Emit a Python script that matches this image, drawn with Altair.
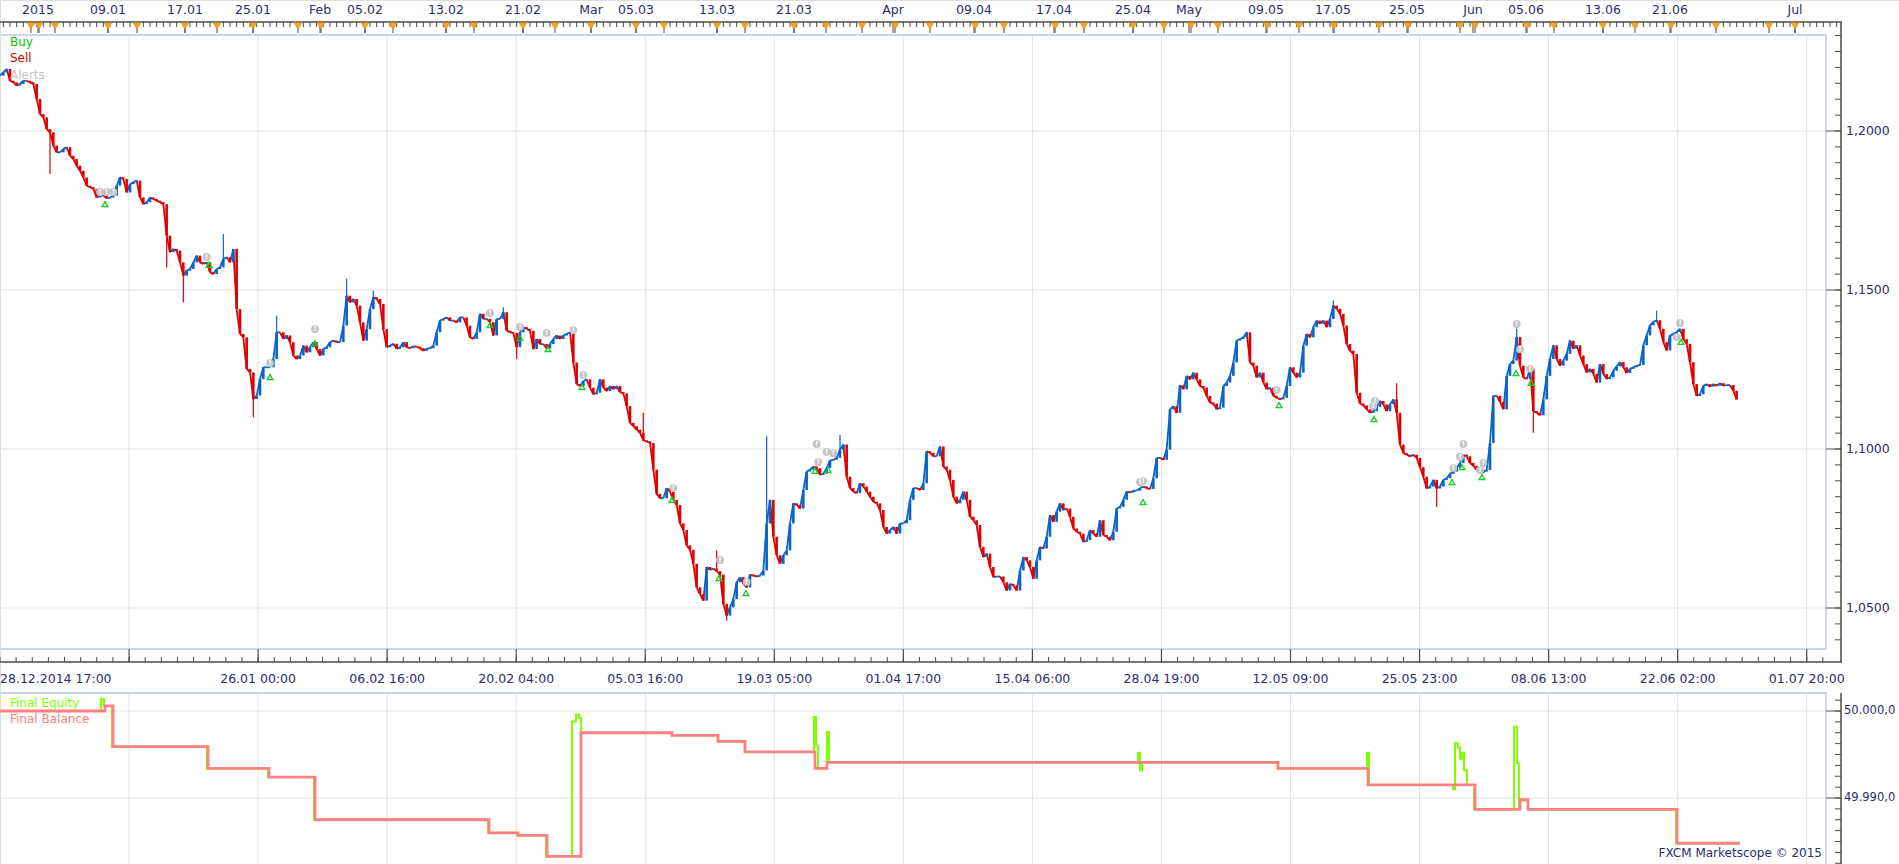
import altair as alt
import numpy as np
import pandas as pd

FONT = "DejaVu Sans"
NAVY = "#2d2d6b"

# ---------------- data: EUR/USD, one value per 6-hour bar ----------------
close_part1 = [
    1.2174, 1.2184, 1.2195, 1.2158, 1.2153, 1.2143, 1.2148, 1.2158, 1.2158, 1.2153,
    1.2148, 1.2101, 1.2053, 1.2043, 1.2006, 1.1996, 1.1954, 1.1933, 1.1933, 1.1943,
    1.1949, 1.1922, 1.1912, 1.1891, 1.1875, 1.1854, 1.1828, 1.1823, 1.1818, 1.1791,
    1.1797, 1.1797, 1.1788, 1.1791, 1.1797, 1.1828, 1.1854, 1.1849, 1.1807, 1.1833,
    1.1839, 1.1844, 1.1791, 1.1770, 1.1776, 1.1791, 1.1786, 1.1781, 1.1776, 1.1770,
    1.1671, 1.1619, 1.1629, 1.1624, 1.1587, 1.1545, 1.1561, 1.1566, 1.1587, 1.1608,
    1.1587, 1.1582, 1.1587, 1.1556, 1.1550, 1.1566, 1.1571, 1.1598, 1.1603, 1.1587,
    1.1629, 1.1440, 1.1362, 1.1351, 1.1252, 1.1241, 1.1157, 1.1168, 1.1220, 1.1257,
    1.1257, 1.1257, 1.1283, 1.1367, 1.1367, 1.1346, 1.1357, 1.1336, 1.1294, 1.1283,
    1.1294, 1.1325, 1.1304, 1.1320, 1.1336, 1.1315, 1.1294, 1.1315, 1.1320, 1.1336,
    1.1341, 1.1336, 1.1336, 1.1388, 1.1482, 1.1461, 1.1472, 1.1451, 1.1398, 1.1341,
    1.1377, 1.1440, 1.1477, 1.1472, 1.1456, 1.1377, 1.1320, 1.1325, 1.1331, 1.1315,
    1.1320, 1.1336, 1.1320, 1.1317, 1.1323, 1.1322, 1.1317, 1.1309, 1.1315, 1.1317,
    1.1325, 1.1367, 1.1404, 1.1409, 1.1414, 1.1404, 1.1404, 1.1398, 1.1414, 1.1414,
    1.1388,
]
close_part2 = [
    1.1351, 1.1346, 1.1367, 1.1425, 1.1409, 1.1409, 1.1399, 1.1357, 1.1409, 1.1409,
    1.1430, 1.1372, 1.1367, 1.1365, 1.1320, 1.1367, 1.1383, 1.1378, 1.1372, 1.1314,
    1.1346, 1.1330, 1.1330, 1.1316, 1.1330, 1.1346, 1.1357, 1.1346, 1.1357, 1.1362,
    1.1367, 1.1272, 1.1204, 1.1198, 1.1214, 1.1219, 1.1193, 1.1172, 1.1177, 1.1219,
    1.1193, 1.1182, 1.1198, 1.1188, 1.1198, 1.1179, 1.1175, 1.1135, 1.1082, 1.1072,
    1.1061, 1.1051, 1.1027, 1.1024, 1.1019, 1.0935, 1.0859, 1.0845, 1.0845, 1.0877,
    1.0866, 1.0840, 1.0824, 1.0766, 1.0745, 1.0697, 1.0683, 1.0639, 1.0565, 1.0544,
    1.0523, 1.0629, 1.0620, 1.0624, 1.0616, 1.0605, 1.0513, 1.0476, 1.0502, 1.0528,
    1.0581, 1.0597, 1.0576, 1.0565, 1.0605, 1.0602, 1.0599, 1.0602, 1.0618, 1.0766,
    1.0840, 1.0724, 1.0666, 1.0639, 1.0666, 1.0681, 1.0766, 1.0829, 1.0824, 1.0813,
    1.0871, 1.0929, 1.0935, 1.0945, 1.0940, 1.0919, 1.0922, 1.0940, 1.0964, 1.0966,
    1.0972, 1.0998, 1.1014, 1.0913, 1.0877, 1.0866, 1.0861, 1.0892, 1.0882, 1.0866,
    1.0850, 1.0834, 1.0829, 1.0808, 1.0755, 1.0734, 1.0745, 1.0755, 1.0734, 1.0766,
    1.0766, 1.0776, 1.0840, 1.0877, 1.0877, 1.0871, 1.0892, 1.0993,
]
close_part3 = [
    1.0988, 1.0977, 1.0977, 1.1008, 1.0945, 1.0935, 1.0903, 1.0850, 1.0829, 1.0840,
    1.0866, 1.0840, 1.0787, 1.0776, 1.0761, 1.0692, 1.0660, 1.0671, 1.0629, 1.0597,
    1.0599, 1.0599, 1.0581, 1.0555, 1.0576, 1.0571, 1.0555, 1.0618, 1.0660, 1.0650,
    1.0629, 1.0592, 1.0650, 1.0692, 1.0687, 1.0724, 1.0792, 1.0771, 1.0803, 1.0829,
    1.0808, 1.0813, 1.0787, 1.0750, 1.0740, 1.0734, 1.0708, 1.0713, 1.0745, 1.0734,
    1.0724, 1.0776, 1.0729, 1.0724, 1.0713, 1.0740, 1.0813, 1.0818, 1.0840, 1.0866,
    1.0863, 1.0869, 1.0869, 1.0877, 1.0882, 1.0877, 1.0874, 1.0908, 1.0972, 1.0972,
    1.0966, 1.0998, 1.1125, 1.1135, 1.1114, 1.1200, 1.1188, 1.1230, 1.1219, 1.1240,
    1.1219, 1.1198, 1.1193, 1.1167, 1.1146, 1.1143, 1.1125, 1.1130, 1.1198, 1.1209,
    1.1230, 1.1272, 1.1341, 1.1346, 1.1351, 1.1367, 1.1272, 1.1262, 1.1225, 1.1240,
    1.1209, 1.1188, 1.1193, 1.1167, 1.1161, 1.1156, 1.1161, 1.1198, 1.1257, 1.1240,
    1.1225, 1.1240, 1.1325, 1.1362, 1.1351, 1.1383, 1.1404, 1.1394, 1.1404, 1.1383,
    1.1409, 1.1451, 1.1441, 1.1425, 1.1388, 1.1330, 1.1309, 1.1299, 1.1177, 1.1143,
    1.1137, 1.1125, 1.1114, 1.1119, 1.1132, 1.1151, 1.1140, 1.1119,
]
close_part4 = [
    1.1141, 1.1156, 1.1114, 1.1014, 1.0987, 1.0982, 1.0977, 1.0982, 1.0972, 1.0943,
    1.0913, 1.0876, 1.0882, 1.0903, 1.0876, 1.0882, 1.0903, 1.0908, 1.0922, 1.0929,
    1.0940, 1.0956, 1.0982, 1.0977, 1.0956, 1.0947, 1.0934, 1.0924, 1.0929, 1.0934,
    1.1019, 1.1167, 1.1167, 1.1148, 1.1125, 1.1230, 1.1267, 1.1278, 1.1352, 1.1262,
    1.1225, 1.1220, 1.1252, 1.1119, 1.1114, 1.1106, 1.1156, 1.1230, 1.1283, 1.1326,
    1.1283, 1.1262, 1.1278, 1.1299, 1.1341, 1.1315, 1.1326, 1.1294, 1.1267, 1.1241,
    1.1252, 1.1236, 1.1209, 1.1267, 1.1236, 1.1220, 1.1225, 1.1246, 1.1260, 1.1273,
    1.1257, 1.1239, 1.1252, 1.1257, 1.1262, 1.1264, 1.1326, 1.1357, 1.1389, 1.1400,
    1.1405, 1.1378, 1.1336, 1.1310, 1.1357, 1.1362, 1.1368, 1.1378, 1.1345, 1.1331,
    1.1273, 1.1204, 1.1167, 1.1172, 1.1199, 1.1204, 1.1196, 1.1204, 1.1199, 1.1207,
    1.1199, 1.1201, 1.1201, 1.1183, 1.1156,
]
close = close_part1 + close_part2 + close_part3 + close_part4

# long wicks (bar, low, high)
spike_bar = [15, 50, 55, 67, 76, 83, 104, 112, 151, 155, 193, 215, 218, 230, 252, 400, 419, 431, 455, 460, 497]
spike_low = [1.1865, 1.1571, 1.1461, 1.1598, 1.1100, 1.1367, 1.1482, 1.1477, 1.1430, 1.1283, 1.1027,
             1.0616, 1.0460, 1.0766, 1.0998, 1.1451, 1.1114, 1.0818, 1.1352, 1.1051, 1.1405]
spike_high = [1.1996, 1.1713, 1.1545, 1.1676, 1.1157, 1.1419, 1.1535, 1.1498, 1.1446, 1.1320, 1.1114,
              1.0681, 1.0476, 1.1040, 1.1045, 1.1467, 1.1207, 1.0876, 1.1378, 1.1119, 1.1435]

# alert markers (bar, price)
alert_bar = [30, 32, 34, 62, 81, 94.5, 147, 156, 164, 172, 175, 202, 216, 224, 245, 245.5, 248, 250,
             342, 343, 383, 412, 412.5, 436, 438, 439, 444, 445, 455, 456, 459, 503, 504]
alert_price = [1.1808, 1.1808, 1.1808, 1.1604, 1.1270, 1.1377, 1.1428, 1.1384, 1.1365, 1.1374, 1.1233,
               1.0877, 1.0651, 1.0582, 1.1016, 1.0959, 1.0991, 1.0987, 1.0896, 1.0899, 1.1186, 1.1135,
               1.1151, 1.0940, 1.0975, 1.1016, 1.0934, 1.0956, 1.1393, 1.1314, 1.1252, 1.1352, 1.1396]

# buy-signal arrows (bar, price)
buy_bar = [31.5, 62.7, 81, 94.5, 147, 156, 164.4, 174.6, 201.6, 215.7, 223.8, 244.5, 248.4,
           342.9, 383.7, 412.2, 435.6, 438.6, 444.6, 454.8, 459.3, 504.3]
buy_price = [1.1770, 1.1579, 1.1226, 1.1333, 1.1390, 1.1349, 1.1314, 1.1195, 1.0840, 1.0594, 1.0547,
             1.0931, 1.0934, 1.0833, 1.1138, 1.1094, 1.0896, 1.0943, 1.0912, 1.1239, 1.1208, 1.1337]

# calendar events on the top time line (bar)
event_bar = [9.3, 11.7, 16.5, 32.4, 41.1, 55.5, 65.1, 75.9, 89.4, 96.3, 109.5, 117.9, 133.8, 142.2,
             156.9, 166.5, 177.3, 190.8, 199.2, 215.1, 223.5, 238.2, 247.8, 258.6, 268.5, 279.0, 292.5,
             301.2, 316.5, 325.2, 339.9, 349.2, 357.3, 365.4, 380.1, 389.7, 400.2, 413.7, 422.4, 438.0,
             442.5, 458.1, 466.2, 480.9, 490.5, 501.3, 514.8, 530.7, 538.5]
top_label_bar = [11.4, 32.4, 55.5, 75.9, 96.0, 109.5, 133.8, 156.9, 177.3, 190.8, 215.1, 238.2, 267.9,
                 292.2, 316.2, 339.9, 356.7, 379.8, 399.9, 422.1, 441.9, 457.8, 480.9, 501.0, 538.5]
top_label_text = ["2015", "09.01", "17.01", "25.01", "Feb", "05.02", "13.02", "21.02", "Mar", "05.03",
                  "13.03", "21.03", "Apr", "09.04", "17.04", "25.04", "May", "09.05", "17.05", "25.05",
                  "Jun", "05.06", "13.06", "21.06", "Jul"]

bottom_label_grid = [2, 3, 4, 5, 6, 7, 8, 9, 10, 11, 12, 13, 14]
bottom_label_text = ["26.01 00:00", "06.02 16:00", "20.02 04:00", "05.03 16:00", "19.03 05:00",
                     "01.04 17:00", "15.04 06:00", "28.04 19:00", "12.05 09:00", "25.05 23:00",
                     "08.06 13:00", "22.06 02:00", "01.07 20:00"]
first_label_text = "28.12.2014 17:00"

price_ticks_major = [1.05, 1.10, 1.15, 1.20]
price_labels = ["1,0500", "1,1000", "1,1500", "1,2000"]
eq_ticks_major = [49990, 50000]
eq_labels = ["49.990,0", "50.000,0"]

# account panel
balance_bar = [0, 31.5, 33.9, 62.4, 80.7, 94.5, 146.7, 155.4, 164.1, 174.3, 201.6, 215.4, 223.5,
               244.5, 248.1, 383.4, 410.4, 442.5, 456.0, 458.4, 503.1, 522.0]
balance_value = [50000.0, 50000.6, 49995.9, 49993.4, 49992.4, 49987.5, 49986.0, 49985.7, 49983.3,
                 49997.5, 49997.2, 49996.5, 49995.3, 49993.4, 49994.1, 49993.4, 49991.5, 49988.7,
                 49989.8, 49988.7, 49984.8, 49984.8]
equity_bar = [0, 30.3, 31.2, 33.6, 62.1, 80.4, 94.2, 146.4, 155.1, 163.8, 171.6, 172.8, 173.7, 174.3,
              201.6, 215.4, 223.5, 244.2, 244.8, 245.4, 248.1, 248.7, 341.4, 342.0, 342.6, 383.4,
              410.1, 410.7, 435.9, 436.5, 437.4, 438.0, 438.6, 439.2, 440.1, 442.2, 454.2, 455.1,
              455.7, 456.0, 458.4, 502.8, 522.0]
equity_value = [50000.0, 50001.4, 50000.6, 49995.9, 49993.4, 49992.4, 49987.5, 49986.0, 49985.7,
                49983.3, 49998.8, 49999.6, 49999.2, 49997.5, 49997.2, 49996.5, 49995.3, 49999.3,
                49996.0, 49993.4, 49997.6, 49994.1, 49995.2, 49993.2, 49994.1, 49993.4, 49995.2,
                49991.5, 49991.0, 49996.3, 49995.8, 49994.5, 49995.2, 49993.2, 49991.5, 49988.7,
                49998.2, 49994.0, 49988.7, 49989.8, 49988.7, 49984.8, 49984.8]

BARS_PER_GRID = 38.715
XMAX = 569.7

# ---------------- scales ----------------
XS = alt.Scale(domain=[0, XMAX], nice=False, zero=False)
PY = alt.Scale(domain=[1.05, 1.20], range=[608, 131], nice=False, zero=False)
EY = alt.Scale(domain=[49990, 50000], range=[798, 711], nice=False, zero=False)


def X(field="x"):
    return alt.X(f"{field}:Q", scale=XS, axis=None)


def YP(field="p"):
    return alt.Y(f"{field}:Q", scale=PY, axis=None)


def YE(field="v"):
    return alt.Y(f"{field}:Q", scale=EY, axis=None)


one = pd.DataFrame({"a": [0]})
L = []

# ---------------- grids & frames ----------------
grid_df = pd.DataFrame({"x": BARS_PER_GRID * np.arange(1, 15)})
L.append(alt.Chart(grid_df).mark_rule(color="#e2e2e2", strokeWidth=1).encode(
    x=X(), y=alt.value(35), y2=alt.value(648)))
L.append(alt.Chart(grid_df).mark_rule(color="#e2e2e2", strokeWidth=1).encode(
    x=X(), y=alt.value(694), y2=alt.value(864)))
L.append(alt.Chart(pd.DataFrame({"p": price_ticks_major})).mark_rule(color="#e2e2e2", strokeWidth=1).encode(
    y=YP(), x=alt.value(0), x2=alt.value(1826)))
L.append(alt.Chart(pd.DataFrame({"v": eq_ticks_major})).mark_rule(color="#e2e2e2", strokeWidth=1).encode(
    y=YE(), x=alt.value(0), x2=alt.value(1826)))

frame = "#cdd6e2"
L.append(alt.Chart(one).mark_rule(color=frame, strokeWidth=2).encode(x=alt.value(0), x2=alt.value(1827), y=alt.value(35)))
L.append(alt.Chart(one).mark_rule(color=frame, strokeWidth=2).encode(x=alt.value(0), x2=alt.value(1827), y=alt.value(649)))
L.append(alt.Chart(one).mark_rule(color=frame, strokeWidth=2).encode(x=alt.value(1826), y=alt.value(35), y2=alt.value(649)))
L.append(alt.Chart(one).mark_rule(color=frame, strokeWidth=2).encode(x=alt.value(0), x2=alt.value(1827), y=alt.value(693)))
L.append(alt.Chart(one).mark_rule(color=frame, strokeWidth=2).encode(x=alt.value(1826), y=alt.value(693), y2=alt.value(864)))

# ---------------- top time line ----------------
axis_c = "#4a4a4a"
L.append(alt.Chart(one).mark_rule(color=axis_c, strokeWidth=1.5).encode(x=alt.value(0), x2=alt.value(1842), y=alt.value(22)))
L.append(alt.Chart(pd.DataFrame({"x": np.arange(1, 553, 2)})).mark_rule(color=axis_c, strokeWidth=1).encode(
    x=X(), y=alt.value(22), y2=alt.value(27)))
L.append(alt.Chart(pd.DataFrame({"x": event_bar + top_label_bar})).mark_rule(color=axis_c, strokeWidth=1).encode(
    x=X(), y=alt.value(22), y2=alt.value(33)))
L.append(alt.Chart(pd.DataFrame({"x": event_bar})).mark_point(
    shape="triangle-down", filled=True, fill="#f7a325", stroke="#e08a10", strokeWidth=0.6, size=60, opacity=1).encode(
    x=X(), y=alt.value(26)))
L.append(alt.Chart(pd.DataFrame({"x": top_label_bar, "t": top_label_text})).mark_text(
    font=FONT, fontSize=12.5, color=NAVY, align="center", baseline="middle").encode(
    x=X(), y=alt.value(10), text="t:N"))

# ---------------- bottom time axis ----------------
L.append(alt.Chart(one).mark_rule(color=axis_c, strokeWidth=1.5).encode(x=alt.value(0), x2=alt.value(1842), y=alt.value(662)))
L.append(alt.Chart(pd.DataFrame({"x": BARS_PER_GRID / 8 * np.arange(0, 14 * 8 + 2)})).mark_rule(
    color=axis_c, strokeWidth=1).encode(x=X(), y=alt.value(657), y2=alt.value(662)))
L.append(alt.Chart(grid_df).mark_rule(color=axis_c, strokeWidth=1.2).encode(x=X(), y=alt.value(649), y2=alt.value(662)))
L.append(alt.Chart(pd.DataFrame({"x": [BARS_PER_GRID * g for g in bottom_label_grid], "t": bottom_label_text})).mark_text(
    font=FONT, fontSize=12.5, color=NAVY, align="center", baseline="middle").encode(
    x=X(), y=alt.value(679), text="t:N"))
L.append(alt.Chart(pd.DataFrame({"x": [0], "t": [first_label_text]})).mark_text(
    font=FONT, fontSize=12.5, color=NAVY, align="left", baseline="middle").encode(
    x=X(), y=alt.value(679), text="t:N"))

# ---------------- right axes ----------------
L.append(alt.Chart(one).mark_rule(color=axis_c, strokeWidth=1.5).encode(x=alt.value(1841), y=alt.value(22), y2=alt.value(662)))
L.append(alt.Chart(one).mark_rule(color=axis_c, strokeWidth=1.5).encode(x=alt.value(1841), y=alt.value(693), y2=alt.value(864)))
L.append(alt.Chart(pd.DataFrame({"p": np.round(np.arange(1.04, 1.2301, 0.005), 3)})).mark_rule(
    color=axis_c, strokeWidth=1).encode(y=YP(), x=alt.value(1835), x2=alt.value(1841)))
L.append(alt.Chart(pd.DataFrame({"p": price_ticks_major})).mark_rule(color=axis_c, strokeWidth=1).encode(
    y=YP(), x=alt.value(1826), x2=alt.value(1841)))
L.append(alt.Chart(pd.DataFrame({"p": price_ticks_major, "t": price_labels})).mark_text(
    font=FONT, fontSize=12.5, color=NAVY, align="left", baseline="middle").encode(
    y=YP(), x=alt.value(1846), text="t:N"))
L.append(alt.Chart(pd.DataFrame({"v": np.arange(49982.5, 50001.3, 1.25)})).mark_rule(
    color=axis_c, strokeWidth=1).encode(y=YE(), x=alt.value(1835), x2=alt.value(1841)))
L.append(alt.Chart(pd.DataFrame({"v": eq_ticks_major})).mark_rule(color=axis_c, strokeWidth=1).encode(
    y=YE(), x=alt.value(1826), x2=alt.value(1841)))
L.append(alt.Chart(pd.DataFrame({"v": eq_ticks_major, "t": eq_labels})).mark_text(
    font=FONT, fontSize=11.5, color=NAVY, align="left", baseline="middle").encode(
    y=YE(), x=alt.value(1844), text="t:N"))

# ---------------- price ----------------
prev = [close[0]] + close[:-1]
price_df = pd.DataFrame({
    "x": np.arange(len(close)),
    "close": close,
    "prev": prev,
})
price_df["x0"] = (price_df["x"] - 1).clip(lower=0)
price_df["dir"] = np.where(price_df["close"] >= price_df["prev"], "up", "down")
spike_df = pd.DataFrame({"x": spike_bar, "lo": spike_low, "hi": spike_high})
spike_df = spike_df.merge(price_df[["x", "dir"]], on="x", how="left")

color = alt.Color("dir:N", scale=alt.Scale(domain=["up", "down"], range=["#0a64c8", "#e00000"]), legend=None)

# connecting segments, coloured by direction
L.append(alt.Chart(price_df).mark_rule(strokeWidth=1.8).encode(
    x=X("x0"), x2="x:Q", y=YP("prev"), y2="close:Q", color=color))
L.append(alt.Chart(spike_df).mark_rule(strokeWidth=1.2).encode(x=X(), y=YP("lo"), y2="hi:Q", color=color))
# candle bodies
L.append(alt.Chart(price_df).mark_rule(strokeWidth=2.6).encode(x=X(), y=YP("prev"), y2="close:Q", color=color))

# buy arrows
buy_df = pd.DataFrame({"x": buy_bar, "p": buy_price})
L.append(alt.Chart(buy_df).mark_point(shape="triangle-up", filled=False, color="#10d020",
                                      strokeWidth=1.3, size=34, opacity=1).encode(x=X(), y=YP()))

# alerts
alert_df = pd.DataFrame({"x": alert_bar, "p": alert_price})
L.append(alt.Chart(alert_df).mark_circle(size=62, color="#c4c4c4", opacity=1).encode(x=X(), y=YP()))
L.append(alt.Chart(alert_df.assign(t="!")).mark_text(
    font=FONT, fontSize=7, fontWeight="bold", color="white", align="center", baseline="middle").encode(
    x=X(), y=YP(), text="t:N"))

# ---------------- account panel ----------------
eq_df = pd.DataFrame({"x": equity_bar, "v": equity_value})
bal_df = pd.DataFrame({"x": balance_bar, "v": balance_value})
L.append(alt.Chart(eq_df).mark_line(color="#80ff00", strokeWidth=2.0, interpolate="step-after").encode(x=X(), y=YE()))
L.append(alt.Chart(bal_df).mark_line(color="#ff8080", strokeWidth=2.8, interpolate="step-after").encode(x=X(), y=YE()))

# ---------------- legends & credits ----------------
def label(text, x, y, col, align="left", size=12):
    return alt.Chart(pd.DataFrame({"t": [text]})).mark_text(
        font=FONT, fontSize=size, color=col, align=align, baseline="middle").encode(
        x=alt.value(x), y=alt.value(y), text="t:N")


L.append(label("Buy", 10, 42, "#00c800"))
L.append(label("Sell", 10, 58, "#d00000"))
L.append(label("Alerts", 10, 75, "#c4c4c4"))
L.append(label("Final Equity", 10, 703, "#80ff00"))
L.append(label("Final Balance", 10, 719, "#ff8080"))
L.append(label("FXCM Marketscope \u00a9 2015", 1822, 853, NAVY, align="right"))

chart = alt.layer(*L).resolve_scale(y="independent").properties(
    width=1899, height=864, autosize="none", padding=0
).configure_view(strokeWidth=0).configure(background="white")

chart.save("out.html", embed_options={"renderer": "svg", "actions": False})
